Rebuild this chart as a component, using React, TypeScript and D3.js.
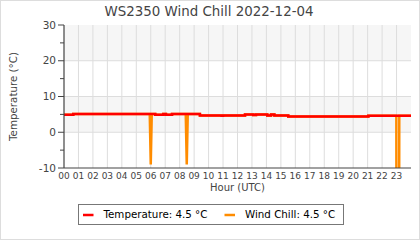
import React from "react";
import * as d3 from "d3";

const hourLabels = ["00","01","02","03","04","05","06","07","08","09","10","11","12","13","14","15","16","17","18","19","20","21","22","23"];
const yMajorTicks = [-10, 0, 10, 20, 30];
const yMinorTicks = [-5, 5, 15, 25];
const bands = [[20, 30], [0, 10]];

const tempHours = [0, 0.64, 6.31, 6.87, 7.05, 7.47, 9.4, 10.9, 11.0, 12.52, 13.09, 13.28, 14.06, 14.32, 14.55, 15.51, 21.05, 24];
const tempValues = [4.9, 5.1, 4.9, 5.1, 4.9, 5.1, 4.7, 4.6, 4.7, 5.0, 4.8, 5.0, 4.7, 5.0, 4.7, 4.4, 4.6, 4.6];

const chillHours = [0, 0.64, 0.64, 5.93, 6.0, 6.07, 6.31, 6.31, 6.87, 6.87, 7.05, 7.05, 7.47, 7.47, 8.42, 8.49, 8.56, 9.4, 9.4, 10.9, 10.9, 11.0, 11.0, 12.52, 12.52, 13.09, 13.09, 13.28, 13.28, 14.06, 14.06, 14.32, 14.32, 14.55, 14.55, 15.51, 15.51, 21.05, 21.05, 22.985, 23.0, 23.175, 23.19, 24];
const chillValues = [4.9, 4.9, 5.1, 5.1, -9, 5.1, 5.1, 4.9, 4.9, 5.1, 5.1, 4.9, 4.9, 5.1, 5.1, -9, 5.1, 5.1, 4.7, 4.7, 4.6, 4.6, 4.7, 4.7, 5.0, 5.0, 4.8, 4.8, 5.0, 5.0, 4.7, 4.7, 5.0, 5.0, 4.7, 4.7, 4.4, 4.4, 4.6, 4.6, -40, -40, 4.6, 4.6];

const legendItems = [
  { label: "Temperature: 4.5 °C", color: "#ff0000" },
  { label: "Wind Chill: 4.5 °C", color: "#ff8c00" },
];

const W = 420, H = 240;
const L = 64, R = 411, T = 25, B = 168;
const FONT = "DejaVu Sans";

export default function App() {
  const x = d3.scaleLinear().domain([0, 24]).range([L, R]);
  const y = d3.scaleLinear().domain([-10, 30]).range([B, T]);

  const tempLine = d3.line<number>()
    .x((_, i) => x(tempHours[i]))
    .y((v) => y(v))
    .curve(d3.curveStepAfter)(tempValues) || "";
  const chillLine = d3.line<number>()
    .x((_, i) => x(chillHours[i]))
    .y((v) => y(v))(chillValues) || "";

  const hourTicks = hourLabels.map((_, i) => i);

  return (
    <svg width={W} height={H} style={{ position: "absolute", left: 0, top: 0 }} fontFamily={FONT}>
      <style>{"body{margin:0}"}</style>
      <rect x={0.5} y={0.5} width={W - 1} height={H - 1} fill="#fff" stroke="#dddddd" />
      <defs>
        <clipPath id="plot">
          <rect x={L} y={T} width={R - L} height={B - T} />
        </clipPath>
      </defs>
      {bands.map(([a, b], i) => (
        <rect key={i} x={L} y={y(b)} width={R - L} height={y(a) - y(b)} fill="#f6f6f6" />
      ))}
      {hourTicks.slice(1).map((h) => (
        <line key={h} x1={x(h)} x2={x(h)} y1={T} y2={B} stroke="#dddddd" strokeWidth={1} />
      ))}
      {yMajorTicks.slice(1, -1).map((v) => (
        <line key={v} x1={L} x2={R} y1={y(v)} y2={y(v)} stroke="#dddddd" strokeWidth={1} />
      ))}
      <g clipPath="url(#plot)">
        <path d={chillLine} fill="none" stroke="#ff8c00" strokeWidth={2.5} />
        <path d={tempLine} fill="none" stroke="#ff0000" strokeWidth={2.5} />
      </g>
      <line x1={L} x2={L} y1={T} y2={B} stroke="#444" strokeWidth={1.2} />
      <line x1={L} x2={R} y1={B} y2={B} stroke="#444" strokeWidth={1.2} />
      {yMajorTicks.map((v) => (
        <g key={v}>
          <line x1={L - 6} x2={L} y1={y(v)} y2={y(v)} stroke="#444" />
          <text x={L - 8} y={y(v)} dy="0.35em" textAnchor="end" fontSize={10.5} fill="#444">{v}</text>
        </g>
      ))}
      {yMinorTicks.map((v) => (
        <line key={v} x1={L - 4} x2={L} y1={y(v)} y2={y(v)} stroke="#444" />
      ))}
      {hourTicks.map((h) => (
        <text key={h} x={x(h)} y={179} textAnchor="middle" fontSize={9} fill="#444">{hourLabels[h]}</text>
      ))}
      <text x={(L + R) / 2} y={191} textAnchor="middle" fontSize={10} fill="#444">Hour (UTC)</text>
      <text transform={`translate(17,${(T + B) / 2}) rotate(-90)`} textAnchor="middle" fontSize={10.3} fill="#444">Temperature (°C)</text>
      <text x={209} y={15.7} textAnchor="middle" fontSize={13.4} fill="#444">WS2350 Wind Chill 2022-12-04</text>
      <rect x={78.5} y={204.5} width={265} height={20} fill="#fff" stroke="#777" />
      {legendItems.map((it, i) => {
        const lx = i === 0 ? 83 : 224.5;
        return (
          <g key={i}>
            <line x1={lx} x2={lx + 10.5} y1={215} y2={215} stroke={it.color} strokeWidth={2.5} />
            <text x={lx + 20.5} y={218} fontSize={10.3} fill="#000">{it.label}</text>
          </g>
        );
      })}
    </svg>
  );
}
